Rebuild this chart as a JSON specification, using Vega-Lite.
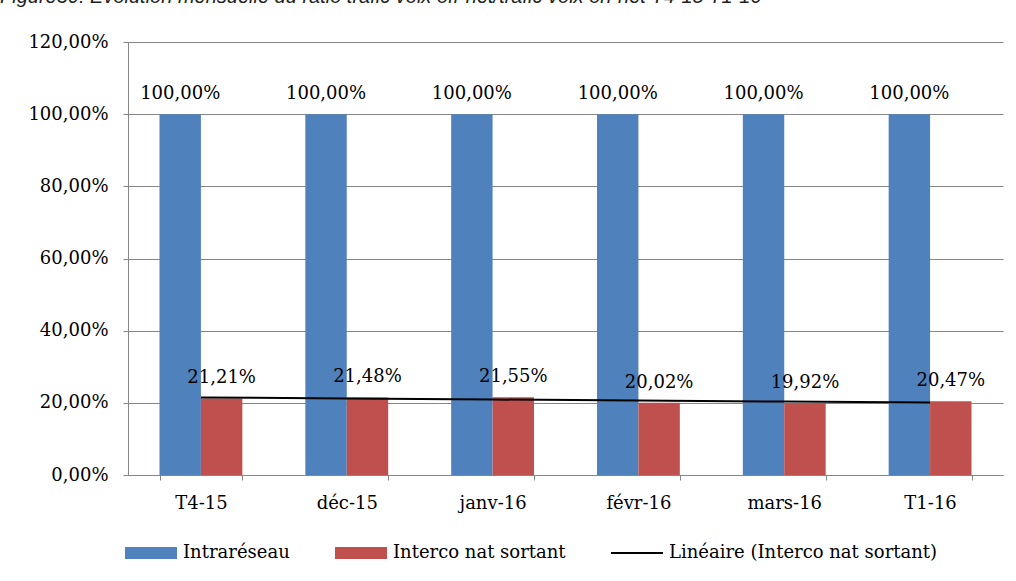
{
  "$schema": "https://vega.github.io/schema/vega-lite/v6.json",
  "width": 875,
  "height": 433,
  "autosize": {"type": "none"},
  "padding": {"left": 128, "top": 42, "right": 13, "bottom": 106},
  "background": "white",
  "title": {
    "text": "Figure30: Evolution mensuelle du ratio trafic voix off-net/trafic voix on-net T4-15 T1-16",
    "anchor": "start",
    "frame": "group",
    "orient": "top",
    "baseline": "alphabetic",
    "offset": 10,
    "dx": -128,
    "font": "Liberation Sans",
    "fontStyle": "italic",
    "fontWeight": "normal",
    "fontSize": 20,
    "color": "#222222"
  },
  "config": {
    "locale": {"number": {"decimal": ",", "thousands": " ", "grouping": [3], "currency": ["", " €"]}},
    "view": {"stroke": null},
    "font": "DejaVu Serif",
    "axis": {
      "labelFont": "DejaVu Serif",
      "labelFontSize": 18,
      "labelColor": "#000000",
      "domainColor": "#868686",
      "tickColor": "#868686",
      "gridColor": "#868686",
      "gridWidth": 1,
      "domainWidth": 1,
      "tickWidth": 1,
      "tickSize": 5,
      "title": null
    }
  },
  "datasets": {
    "bars": [
      {"mois": "T4-15", "serie": "Intraréseau", "valeur": 1.0},
      {"mois": "T4-15", "serie": "Interco nat sortant", "valeur": 0.2121},
      {"mois": "déc-15", "serie": "Intraréseau", "valeur": 1.0},
      {"mois": "déc-15", "serie": "Interco nat sortant", "valeur": 0.2148},
      {"mois": "janv-16", "serie": "Intraréseau", "valeur": 1.0},
      {"mois": "janv-16", "serie": "Interco nat sortant", "valeur": 0.2155},
      {"mois": "févr-16", "serie": "Intraréseau", "valeur": 1.0},
      {"mois": "févr-16", "serie": "Interco nat sortant", "valeur": 0.2002},
      {"mois": "mars-16", "serie": "Intraréseau", "valeur": 1.0},
      {"mois": "mars-16", "serie": "Interco nat sortant", "valeur": 0.1992},
      {"mois": "T1-16", "serie": "Intraréseau", "valeur": 1.0},
      {"mois": "T1-16", "serie": "Interco nat sortant", "valeur": 0.2047}
    ],
    "tendance": [
      {"mois": "T4-15", "tendance": 0.2148},
      {"mois": "déc-15", "tendance": 0.2120},
      {"mois": "janv-16", "tendance": 0.2092},
      {"mois": "févr-16", "tendance": 0.2063},
      {"mois": "mars-16", "tendance": 0.2035},
      {"mois": "T1-16", "tendance": 0.2007}
    ]
  },
  "layer": [
    {
      "data": {"name": "bars"},
      "mark": {"type": "bar"},
      "encoding": {
        "x": {
          "field": "mois",
          "type": "nominal",
          "sort": ["T4-15", "déc-15", "janv-16", "févr-16", "mars-16", "T1-16"],
          "scale": {"paddingInner": 0.432, "paddingOuter": 0.216},
          "axis": {
            "labelAngle": 0,
            "labelPadding": 14,
            "tickBand": "extent",
            "grid": false,
            "domain": true,
            "ticks": true
          }
        },
        "xOffset": {
          "field": "serie",
          "type": "nominal",
          "sort": ["Intraréseau", "Interco nat sortant"],
          "scale": {"paddingInner": 0, "paddingOuter": 0}
        },
        "y": {
          "field": "valeur",
          "type": "quantitative",
          "scale": {"domain": [0, 1.2], "nice": false},
          "axis": {
            "values": [0, 0.2, 0.4, 0.6, 0.8, 1.0, 1.2],
            "format": ".2%",
            "grid": true,
            "labelPadding": 15
          }
        },
        "color": {
          "field": "serie",
          "type": "nominal",
          "scale": {
            "domain": ["Intraréseau", "Interco nat sortant", "Linéaire (Interco nat sortant)"],
            "range": ["#4F81BD", "#C0504D", "#000000"]
          },
          "legend": {
            "orient": "none",
            "legendX": -4,
            "legendY": 484,
            "direction": "horizontal",
            "title": null,
            "labelFont": "DejaVu Serif",
            "labelFontSize": 18,
            "labelColor": "#000000",
            "labelOffset": 5,
            "labelLimit": 400,
            "symbolSize": 2704,
            "columnPadding": 41,
            "gridAlign": "none",
            "padding": 0,
            "encode": {
              "symbols": {
                "update": {
                  "size": {"value": 2704},
                  "shape": {"signal": "datum.value === 'Linéaire (Interco nat sortant)' ? 'M-1,0H1' : 'M-1,-0.23H1V0.23H-1Z'"},
                  "fill": {"signal": "datum.value === 'Intraréseau' ? '#4F81BD' : datum.value === 'Interco nat sortant' ? '#C0504D' : 'transparent'"},
                  "stroke": {"signal": "datum.value === 'Linéaire (Interco nat sortant)' ? '#000000' : 'transparent'"},
                  "strokeWidth": {"value": 2},
                  "opacity": {"value": 1}
                }
              }
            }
          }
        }
      }
    },
    {
      "data": {"name": "bars"},
      "mark": {"type": "text", "baseline": "alphabetic", "align": "center", "dy": -15, "font": "DejaVu Serif", "fontSize": 18, "color": "#000000"},
      "encoding": {
        "x": {"field": "mois", "type": "nominal", "sort": ["T4-15", "déc-15", "janv-16", "févr-16", "mars-16", "T1-16"]},
        "xOffset": {"field": "serie", "type": "nominal", "sort": ["Intraréseau", "Interco nat sortant"]},
        "y": {"field": "valeur", "type": "quantitative"},
        "text": {"field": "valeur", "type": "quantitative", "format": ".2%"}
      }
    },
    {
      "data": {"name": "tendance"},
      "mark": {"type": "line", "color": "#000000", "strokeWidth": 2},
      "encoding": {
        "x": {"field": "mois", "type": "nominal", "sort": ["T4-15", "déc-15", "janv-16", "févr-16", "mars-16", "T1-16"]},
        "y": {"field": "tendance", "type": "quantitative"}
      }
    }
  ]
}
